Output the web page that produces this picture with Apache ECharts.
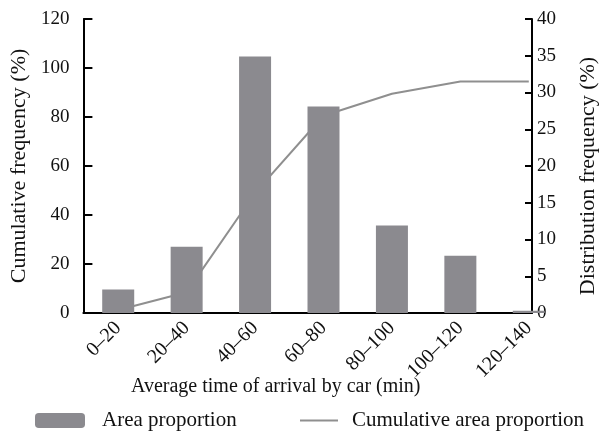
<!DOCTYPE html>
<html>
<head>
<meta charset="utf-8">
<script src="https://cdn.jsdelivr.net/npm/echarts@6/dist/echarts.min.js"></script>
<style>
  html, body { margin: 0; padding: 0; background: #fff; }
  #chart { width: 607px; height: 436px; }
</style>
</head>
<body>
<div id="chart"></div>
<script>
// Travel-time classes (minutes)
const categories = ['0–20', '20–40', '40–60', '60–80', '80–100', '100–120', '120–140'];
// Share of area in each class (%), right axis
const areaProportion = [3.2, 9.0, 34.9, 28.1, 11.9, 7.8, 0.3];
// Running total of the area share (%), left axis
const cumulativeProportion = [1.2, 8.5, 49, 80.5, 89.5, 94.5, 94.5];
// Axis ranges
const leftTicks = { min: 0, max: 120, interval: 20 };
const rightTicks = { min: 0, max: 40, interval: 5 };

const FONT = 'Liberation Serif, Times New Roman, serif';
const INK = '#111';
const plotTop = 19, plotBottom = 123;

const chart = echarts.init(document.getElementById('chart'));

const hiddenAxis = { show: false };

chart.setOption({
  animation: false,
  backgroundColor: '#fff',
  title: {
    text: 'Average time of arrival by car (min)',
    left: 131,
    top: 377,
    padding: 0,
    textStyle: { fontFamily: FONT, fontSize: 20, fontWeight: 'normal', color: INK }
  },
  legend: [
    {
      data: ['Area proportion'],
      left: 35, top: 410, padding: 0,
      itemWidth: 50, itemHeight: 15,
      textStyle: { fontFamily: FONT, fontSize: 21, color: INK, padding: [0, 0, 0, 12] }
    },
    {
      data: [{ name: 'Cumulative area proportion', icon: 'rect' }],
      left: 300, top: 410, padding: 0,
      itemWidth: 38, itemHeight: 2,
      textStyle: { fontFamily: FONT, fontSize: 21, color: INK, padding: [0, 0, 0, 9] }
    }
  ],
  grid: [
    // frame carrying the two value axes
    { left: 83, right: 61, top: plotTop, bottom: plotBottom },
    // category band for the bars and the cumulative line
    { left: 84, width: 479, top: plotTop, bottom: plotBottom }
  ],
  xAxis: [
    {
      gridIndex: 0, type: 'value', min: 0, max: 1,
      axisLine: { show: true, lineStyle: { color: '#000', width: 2 } },
      axisTick: { show: false }, axisLabel: { show: false }, splitLine: { show: false }
    },
    {
      gridIndex: 1, type: 'category', data: categories,
      axisLine: { show: false }, axisTick: { show: false },
      axisLabel: {
        rotate: 45, margin: 12, interval: 0,
        fontFamily: FONT, fontSize: 20, color: INK
      }
    }
  ],
  yAxis: [
    {
      gridIndex: 0, type: 'value', position: 'left',
      min: leftTicks.min, max: leftTicks.max, interval: leftTicks.interval,
      name: 'Cumulative frequency (%)', nameLocation: 'middle', nameRotate: 90, nameGap: 52,
      nameTextStyle: { fontFamily: FONT, fontSize: 22, color: INK },
      axisLine: { show: true, lineStyle: { color: '#000', width: 2 } },
      axisTick: { show: true, inside: true, length: 9, lineStyle: { color: '#000', width: 2 } },
      axisLabel: { margin: 14, fontFamily: FONT, fontSize: 19, color: INK },
      splitLine: { show: false }
    },
    {
      gridIndex: 0, type: 'value', position: 'right',
      min: rightTicks.min, max: rightTicks.max, interval: rightTicks.interval,
      name: 'Distribution frequency (%)', nameLocation: 'middle', nameRotate: 90, nameGap: 45,
      nameTextStyle: { fontFamily: FONT, fontSize: 22, color: INK, padding: [0, 20, 0, 0] },
      axisLine: { show: true, lineStyle: { color: '#000', width: 2 } },
      axisTick: { show: true, inside: true, length: 7, lineStyle: { color: '#000', width: 2 } },
      axisLabel: { margin: 5, fontFamily: FONT, fontSize: 19, color: INK },
      splitLine: { show: false }
    },
    Object.assign({ gridIndex: 1, type: 'value', position: 'left', min: leftTicks.min, max: leftTicks.max }, hiddenAxis),
    Object.assign({ gridIndex: 1, type: 'value', position: 'right', min: rightTicks.min, max: rightTicks.max }, hiddenAxis)
  ],
  series: [
    {
      name: 'Cumulative area proportion',
      type: 'line',
      xAxisIndex: 1, yAxisIndex: 2,
      data: cumulativeProportion,
      symbol: 'none',
      z: 1,
      lineStyle: { color: '#8f8f8f', width: 2 },
      itemStyle: { color: '#8f8f8f' }
    },
    {
      name: 'Area proportion',
      type: 'bar',
      xAxisIndex: 1, yAxisIndex: 3,
      data: areaProportion,
      barWidth: 32,
      z: 3,
      itemStyle: { color: '#8b8a8f' }
    }
  ]
});
</script>
</body>
</html>
